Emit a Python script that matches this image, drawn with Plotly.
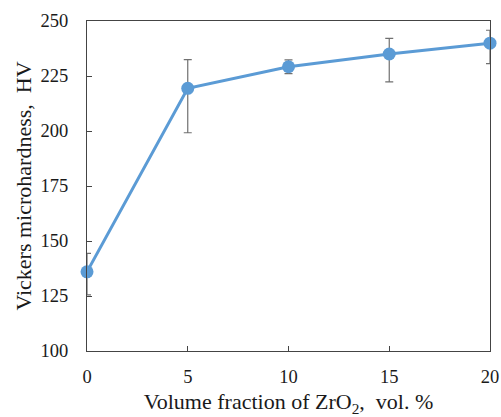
import plotly.graph_objects as go

x_vals = [0, 5, 10, 15, 20]
hardness = [136, 219.4, 229.2, 235.0, 239.9]
err_plus = [8.4, 13.0, 3.1, 7.1, 5.9]
err_minus = [10.5, 20.2, 3.1, 12.7, 9.3]
x_ticks = [0, 5, 10, 15, 20]
y_ticks = [100, 125, 150, 175, 200, 225, 250]

fig = go.Figure()
fig.add_trace(go.Scatter(
    x=x_vals, y=hardness, mode="lines+markers",
    line=dict(color="#5B9BD5", width=3),
    marker=dict(color="#5B9BD5", size=13),
    error_y=dict(type="data", symmetric=False, array=err_plus, arrayminus=err_minus,
                 color="#707070", thickness=1.2, width=4),
    cliponaxis=False, showlegend=False,
))

font_family = "Liberation Serif, Times New Roman, serif"
fig.update_layout(
    width=501, height=417,
    margin=dict(l=87, r=11, t=21, b=66, autoexpand=False),
    paper_bgcolor="white", plot_bgcolor="white",
    font=dict(family=font_family, color="#1a1a1a", size=18.5),
)
fig.update_xaxes(
    range=[0, 20], tickvals=x_ticks, ticks="inside", ticklen=5, tickcolor="#444",
    showline=True, linecolor="#444", linewidth=1, mirror=True, showgrid=False,
    zeroline=False, ticklabelstandoff=9, automargin=False,
    tickfont=dict(size=18.5),
    title=dict(text="Volume fraction of ZrO<sub>2</sub>,  vol. %", font=dict(size=22), standoff=11),
)
fig.update_yaxes(
    range=[100, 250], tickvals=y_ticks, ticks="inside", ticklen=5, tickcolor="#444",
    showline=True, linecolor="#444", linewidth=1, mirror=True, showgrid=False,
    zeroline=False, ticklabelstandoff=14, automargin=False,
    tickfont=dict(size=18.5),
    title=dict(text="Vickers microhardness,  HV", font=dict(size=22), standoff=2),
)

fig.write_html(
    "out.html",
    config={"displayModeBar": False},
    post_script="document.body.style.margin='0';document.body.style.overflow='hidden';",
)
